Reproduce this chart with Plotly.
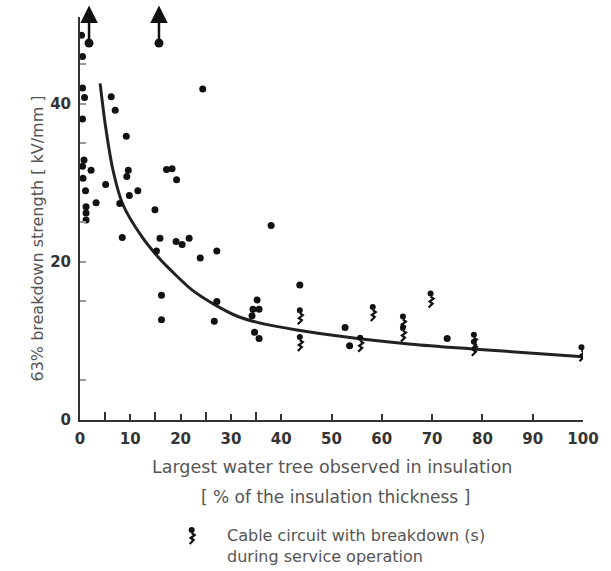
import plotly.graph_objects as go

# ---- data ----
# plain measurements (x: largest water tree [% of insulation], y: 63% breakdown strength [kV/mm])
dot_x = [0.3, 0.5, 0.5, 0.9, 0.5, 0.8, 0.5, 2.2, 0.6, 1.1, 3.2, 1.2, 1.2, 1.2,
         6.2, 7.0, 9.2, 9.6, 9.3, 5.1, 11.5, 9.8, 7.9, 8.4,
         24.4, 17.2, 18.3, 19.2, 14.9, 15.9, 15.2, 19.1, 20.3, 21.7, 23.9, 27.2, 38.0,
         16.2, 16.2, 27.2, 26.7,
         35.2, 34.4, 35.6, 34.2, 34.7, 35.6,
         43.7, 52.7, 53.6, 73.0]
dot_y = [48.7, 46.0, 42.0, 40.8, 38.1, 32.9, 32.1, 31.6, 30.6, 29.0, 27.5, 27.0, 26.2, 25.3,
         40.9, 39.2, 35.9, 31.6, 30.8, 29.8, 29.0, 28.4, 27.4, 23.1,
         41.9, 31.7, 31.8, 30.4, 26.6, 23.0, 21.4, 22.6, 22.2, 23.0, 20.5, 21.4, 24.6,
         15.8, 12.7, 15.0, 12.5,
         15.2, 14.0, 14.0, 13.2, 11.1, 10.3,
         17.1, 11.7, 9.4, 10.3]

# cable circuits with breakdown(s) during service operation
bd_x = [43.7, 43.7, 55.7, 58.2, 64.2, 64.2, 69.7, 78.3, 78.3, 99.7]
bd_y = [13.9, 10.5, 10.4, 14.3, 13.1, 11.7, 16.0, 10.8, 9.9, 9.2]

# samples beyond the scale (arrows)
arrow_x = [1.8, 15.7]
arrow_y = [47.7, 47.7]

# fitted curve
curve_x = [4.0, 5.0, 6.5, 8.5, 12.4, 15.7, 18.3, 22.2, 26.5, 31.4, 37.0, 43.1, 52.9, 65.9, 78.0, 100.0]
curve_y = [42.6, 37.5, 31.8, 27.3, 23.1, 20.5, 18.8, 16.5, 14.7, 13.1, 12.1, 11.4, 10.5, 9.6, 9.0, 8.0]

x_ticks = [0, 10, 20, 30, 40, 50, 60, 70, 80, 90, 100]
x_minor = [5, 15, 25, 35]
y_ticks = [0, 20, 40]
y_minor = [5, 15, 25, 35, 45]

INK = "#111111"
TXT = "#555555"
FONT = "DejaVu Sans"

fig = go.Figure()

fig.add_trace(go.Scatter(x=curve_x, y=curve_y, mode="lines",
                         line=dict(color="#222222", width=3, shape="spline", smoothing=0.8),
                         hoverinfo="skip", cliponaxis=False))
fig.add_trace(go.Scatter(x=dot_x, y=dot_y, mode="markers",
                         marker=dict(color=INK, size=7), cliponaxis=False))
fig.add_trace(go.Scatter(x=bd_x, y=bd_y, mode="markers",
                         marker=dict(color=INK, size=6), cliponaxis=False))
fig.add_trace(go.Scatter(x=arrow_x, y=arrow_y, mode="markers",
                         marker=dict(color=INK, size=9), cliponaxis=False))

ZIG = "M 0,-3 L 3,-5 L -1,-8 L 2,-10 L -2,-14"

shapes = []
for bx, by in zip(bd_x, bd_y):
    shapes.append(dict(type="path", xref="x", yref="y", xsizemode="pixel", ysizemode="pixel",
                       xanchor=bx, yanchor=by, path=ZIG,
                       line=dict(color=INK, width=2.2)))

# legend glyph
lx, ly = (193 - 80) / 509, (420 - 530) / 403
shapes.append(dict(type="circle", xref="paper", yref="paper", xsizemode="pixel", ysizemode="pixel",
                   xanchor=lx, yanchor=ly, x0=-3, x1=3, y0=-3, y1=3,
                   fillcolor=INK, line=dict(color=INK, width=0)))
shapes.append(dict(type="path", xref="paper", yref="paper", xsizemode="pixel", ysizemode="pixel",
                   xanchor=lx, yanchor=ly, path=ZIG, line=dict(color=INK, width=2.2)))

annotations = []
for ax_, ay_ in zip(arrow_x, arrow_y):
    annotations.append(dict(x=ax_, y=ay_, xref="x", yref="y", ax=0, ay=-39, text="",
                            showarrow=True, arrowside="start", startarrowhead=2,
                            startarrowsize=1.4, arrowwidth=2.5, arrowcolor=INK,
                            standoff=0, startstandoff=0))

annotations.append(dict(text="Largest water tree observed in insulation", xref="paper", yref="paper",
                        x=(335 - 80) / 509, y=(420 - 467) / 403, xanchor="center", yanchor="middle",
                        showarrow=False, font=dict(family=FONT, size=17.5, color=TXT)))
annotations.append(dict(text="[ % of the insulation thickness ]", xref="paper", yref="paper",
                        x=(339 - 80) / 509, y=(420 - 497) / 403, xanchor="center", yanchor="middle",
                        showarrow=False, font=dict(family=FONT, size=17, color=TXT)))
annotations.append(dict(text="63% breakdown strength [ kV/mm ]", xref="paper", yref="paper",
                        x=(36 - 80) / 509, y=(420 - 239) / 403, xanchor="center", yanchor="middle",
                        textangle=-90, showarrow=False, font=dict(family=FONT, size=16, color=TXT)))
annotations.append(dict(text="Cable circuit with breakdown (s)<br>during service operation",
                        xref="paper", yref="paper", x=(227 - 80) / 509, y=(420 - 546) / 403,
                        xanchor="left", yanchor="middle", align="left", showarrow=False,
                        font=dict(family=FONT, size=16, color=TXT)))

tickfont = dict(family=FONT, size=15, color="#333333", weight="bold")
fig.update_layout(
    width=611, height=571,
    margin=dict(l=80, r=22, t=17, b=151),
    paper_bgcolor="white", plot_bgcolor="white",
    showlegend=False,
    shapes=shapes, annotations=annotations,
    xaxis=dict(range=[0, 100], tickvals=x_ticks, ticktext=[str(v) for v in x_ticks],
               showline=True, linecolor="#333333", linewidth=2,
               ticks="inside", ticklen=6, tickwidth=1.5, tickcolor="#333333",
               minor=dict(tickvals=x_minor, ticks="inside", ticklen=8, tickwidth=1.5, tickcolor="#333333"),
               showgrid=False, zeroline=False, tickfont=tickfont, ticklabelstandoff=4),
    yaxis=dict(range=[0, 51], tickvals=y_ticks, ticktext=[str(v) for v in y_ticks],
               showline=True, linecolor="#333333", linewidth=2,
               ticks="inside", ticklen=6, tickwidth=1.5, tickcolor="#999999",
               minor=dict(tickvals=y_minor, ticks="inside", ticklen=6, tickwidth=1.5, tickcolor="#999999"),
               showgrid=False, zeroline=False, tickfont=tickfont, ticklabelstandoff=4),
)

fig.write_html("out.html")
